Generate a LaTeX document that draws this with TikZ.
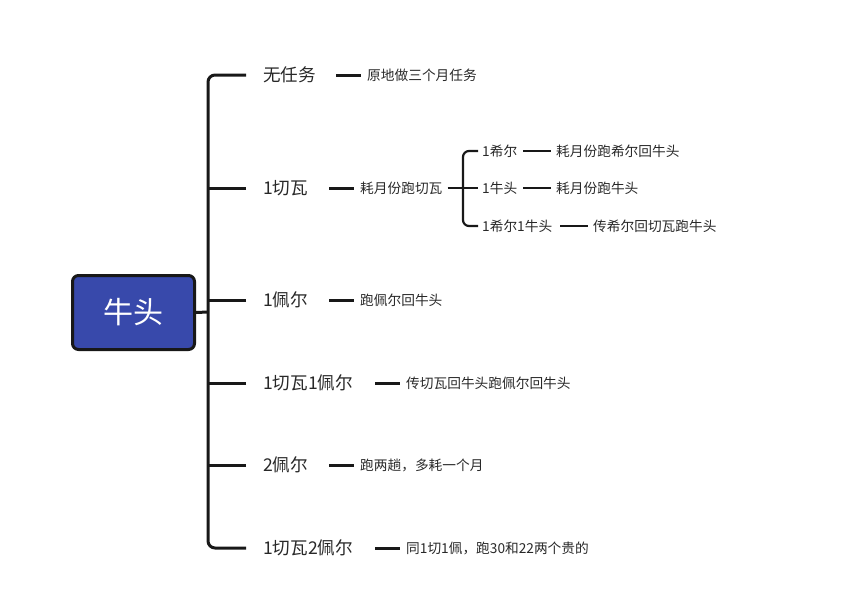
\documentclass[tikz,border=0pt]{standalone}
\usepackage{fontspec}
\setmainfont{Noto Sans CJK SC}
\definecolor{rootblue}{RGB}{56,73,171}
\definecolor{txt}{RGB}{40,40,40}
\definecolor{ln}{RGB}{24,24,24}
\begin{document}
\begin{tikzpicture}[x=1pt,y=-1pt,
  conn/.style={draw=ln,line width=3pt},
  sconn/.style={draw=ln,line width=2.2pt},
  lvone/.style={anchor=west,inner sep=0pt,font=\fontsize{17.6}{20}\selectfont,text=txt},
  lvtwo/.style={anchor=west,inner sep=0pt,font=\fontsize{13.7}{16}\selectfont,text=txt},
  rootbox/.style={draw=ln,line width=3pt,fill=rootblue,rounded corners=6pt,minimum width=122pt,minimum height=74pt,inner sep=0pt,font=\fontsize{30}{34}\selectfont,text=white}]
\useasboundingbox (0,0) rectangle (847,608);
\node[rootbox] (root) at (133.5,312.5) {牛头};
\coordinate (trunk) at (208,312);
% level 1
\node[lvone] (a1) at (263,75) {无任务};
\node[lvone] (a2) at (263,188) {1切瓦};
\node[lvone] (a3) at (263,300) {1佩尔};
\node[lvone] (a4) at (263,383) {1切瓦1佩尔};
\node[lvone] (a5) at (263,465) {2佩尔};
\node[lvone] (a6) at (263,548) {1切瓦2佩尔};
% level 2
\node[lvtwo] (b1) at (367,75) {原地做三个月任务};
\node[lvtwo] (b2) at (360,188) {耗月份跑切瓦};
\node[lvtwo] (b3) at (360,300) {跑佩尔回牛头};
\node[lvtwo] (b4) at (406,383) {传切瓦回牛头跑佩尔回牛头};
\node[lvtwo] (b5) at (360,465) {跑两趟，多耗一个月};
\node[lvtwo] (b6) at (406,548) {同1切1佩，跑30和22两个贵的};
% level 3
\node[lvtwo] (c1) at (482,151) {1希尔};
\node[lvtwo] (c2) at (482,188) {1牛头};
\node[lvtwo] (c3) at (482,226) {1希尔1牛头};
\coordinate (subtrunk) at (463,188);
% level 4
\node[lvtwo] (d1) at (556,151) {耗月份跑希尔回牛头};
\node[lvtwo] (d2) at (556,188) {耗月份跑牛头};
\node[lvtwo] (d3) at (593,226) {传希尔回切瓦跑牛头};
% root connectors
\draw[conn] (root.east) -- (trunk);
\draw[conn,rounded corners=7pt] ([xshift=-17pt]a1.west) -| (trunk) |- ([xshift=-17pt]a6.west);
\foreach \n in {a2,a3,a4,a5}{
  \draw[conn] ([xshift=-17pt]\n.west) -- (trunk |- \n.west);
}
% level 1 -> level 2
\foreach \n in {b1,b2,b3,b4,b5,b6}{
  \draw[conn] ([xshift=-31pt]\n.west) -- ([xshift=-6pt]\n.west);
}
% sub tree
\draw[sconn] ([xshift=5pt]b2.east) -- (subtrunk);
\draw[sconn,rounded corners=6pt] ([xshift=-4pt]c1.west) -| (subtrunk) |- ([xshift=-4pt]c3.west);
\draw[sconn] (subtrunk) -- ([xshift=-4pt]c2.west);
\foreach \n in {d1,d2,d3}{
  \draw[sconn] ([xshift=-33pt]\n.west) -- ([xshift=-5pt]\n.west);
}
\end{tikzpicture}
\end{document}
